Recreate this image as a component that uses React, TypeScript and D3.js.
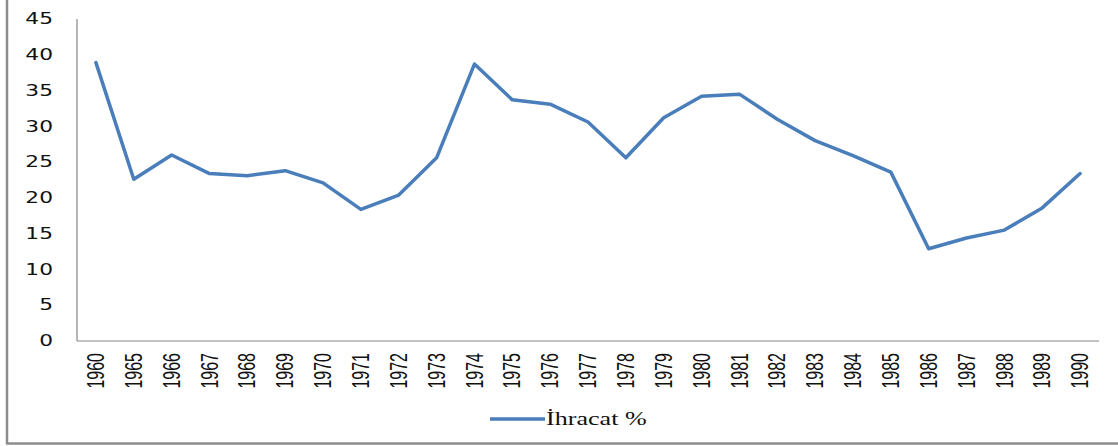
import React from 'react';
import * as d3 from 'd3';

const years = ['1960', '1965', '1966', '1967', '1968', '1969', '1970', '1971', '1972', '1973', '1974', '1975', '1976', '1977', '1978', '1979', '1980', '1981', '1982', '1983', '1984', '1985', '1986', '1987', '1988', '1989', '1990'];
const ihracat = [38.9, 22.6, 26.0, 23.4, 23.1, 23.8, 22.1, 18.4, 20.4, 25.6, 38.7, 33.7, 33.1, 30.6, 25.6, 31.2, 34.2, 34.5, 31.0, 28.0, 25.9, 23.6, 12.9, 14.4, 15.5, 18.6, 23.4];
const yTicks = [0, 5, 10, 15, 20, 25, 30, 35, 40, 45];
const seriesName = 'İhracat %';

const W = 1118;
const H = 446;
const stretch = 1.45;

export default function App() {
  const x = d3.scaleBand().domain(years).range([77, 1099]);
  const y = d3.scaleLinear().domain([0, 45]).range([341, 19]);
  const cx = (d: string) => (x(d) ?? 0) + x.bandwidth() / 2;

  const line = d3.line<number>()
    .x((_, i) => cx(years[i]))
    .y((d) => y(d));

  return (
    <div style={{ position: 'absolute', left: 0, top: 0 }}>
      <svg width={W} height={H} viewBox={`0 0 ${W} ${H}`} style={{ display: 'block', background: '#fff' }}>
        {/* outer frame (left and bottom visible) */}
        <line x1={7} y1={0} x2={7} y2={444} stroke="#8c8c8c" strokeWidth={2.5} />
        <line x1={6} y1={443.5} x2={W} y2={443.5} stroke="#8c8c8c" strokeWidth={2.5} />

        {/* axes */}
        <line x1={77} y1={y(45)} x2={77} y2={y(0)} stroke="#868686" strokeWidth={1.2} />
        <line x1={77} y1={y(0)} x2={1099} y2={y(0)} stroke="#868686" strokeWidth={1.2} />

        {yTicks.map((t) => (
          <text
            key={t}
            transform={`translate(53,${y(t)}) scale(${stretch},1)`}
            textAnchor="end"
            dominantBaseline="central"
            fontFamily="'DejaVu Sans', sans-serif"
            fontSize={15}
            fill="#111"
          >
            {t}
          </text>
        ))}

        {years.map((yr) => (
          <text
            key={yr}
            transform={`translate(${cx(yr)},353) scale(${stretch},1) rotate(-90)`}
            textAnchor="end"
            dominantBaseline="central"
            fontFamily="'Liberation Sans', Arial, sans-serif"
            fontSize={16}
            fill="#111"
          >
            {yr}
          </text>
        ))}

        <path d={line(ihracat) ?? ''} fill="none" stroke="#4a7ebb" strokeWidth={3.5} strokeLinejoin="round" strokeLinecap="round" />

        {/* legend */}
        <line x1={490} y1={419} x2={545} y2={419} stroke="#4a7ebb" strokeWidth={3.5} />
        <text
          transform={`translate(546,425) scale(1.45,1)`}
          fontFamily="'Liberation Serif', 'Times New Roman', serif"
          fontSize={18}
          fill="#111"
        >
          {seriesName}
        </text>
      </svg>
    </div>
  );
}
